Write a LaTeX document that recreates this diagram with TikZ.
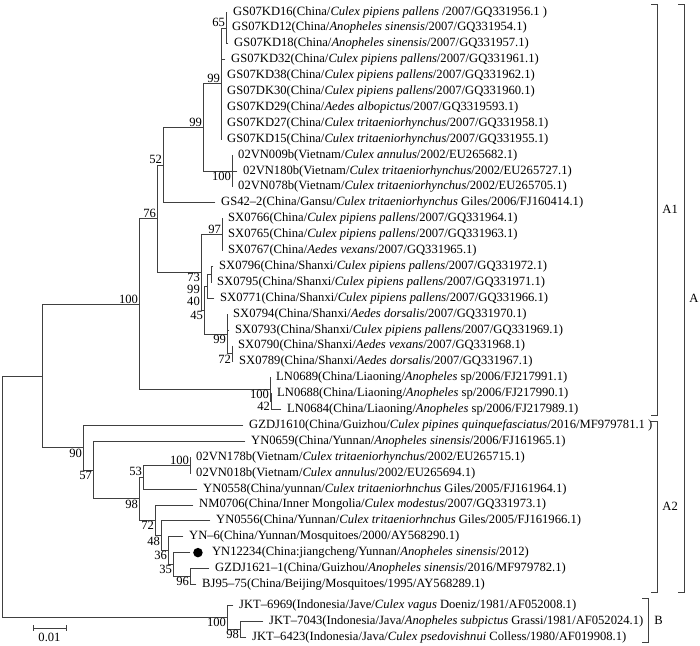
\documentclass[tikz,border=0pt]{standalone}
\usepackage{fontspec}
\setmainfont{Liberation Serif}
\usetikzlibrary{positioning}

\begin{document}
\begin{tikzpicture}[
  x=1pt, y=-1pt, line cap=rect,
  br/.style={draw=black!75, line width=0.8pt},
  lab/.style={inner sep=0pt, font=\fontsize{12.6}{14}\selectfont},
  bsup/.style={lab, inner sep=0.8pt, anchor=south east},
  bsdn/.style={lab, inner sep=0.8pt, anchor=north east}
]
  \useasboundingbox (0,0) rectangle (700,645);

  % ── Tips ──────────────────────────────────────────────────────────────────
  \coordinate (c1)  at (227,12);
  \coordinate (c2)  at (226,27.9);
  \coordinate (c3)  at (228,43.8);
  \coordinate (c4)  at (225,59.7);
  \coordinate (c5)  at (221,75.6);
  \coordinate (c6)  at (221,91.5);
  \coordinate (c7)  at (221,107.4);
  \coordinate (c8)  at (221,123.3);
  \coordinate (c9)  at (221,139.2);
  \coordinate (c10) at (232,155.1);
  \coordinate (c11) at (237,171);
  \coordinate (c12) at (232,186.9);
  \coordinate (c13) at (215,202.8);
  \coordinate (c14) at (222,218.7);
  \coordinate (c15) at (222,234.6);
  \coordinate (c16) at (222,250.5);
  \coordinate (c17) at (213,266.4);
  \coordinate (c18) at (211,282.3);
  \coordinate (c19) at (214,298.2);
  \coordinate (c20) at (227,314.1);
  \coordinate (c21) at (229,330);
  \coordinate (c22) at (232,345.9);
  \coordinate (c23) at (233,361.8);
  \coordinate (c24) at (270,377.7);
  \coordinate (c25) at (271,393.6);
  \coordinate (c26) at (281,409.5);
  \coordinate (c27) at (243,425.4);
  \coordinate (c28) at (245,441.3);
  \coordinate (c29) at (190,457.2);
  \coordinate (c30) at (190,473.1);
  \coordinate (c31) at (197,489);
  \coordinate (c32) at (193,504.9);
  \coordinate (c33) at (210,520.8);
  \coordinate (c34) at (183,536.7);
  \coordinate (c35) at (190,552.6);
  \coordinate (c36) at (209,568.5);
  \coordinate (c37) at (196,584.4);
  \coordinate (c38) at (233,605);
  \coordinate (c39) at (263,621);
  \coordinate (c40) at (246,637);

  % ── Internal nodes ────────────────────────────────────────────────────────
  \coordinate (n65)   at (226,27.9);
  \coordinate (n99a)  at (221,83.55);
  \coordinate (n100v) at (232,171);
  \coordinate (n99b)  at (203,127.3);
  \coordinate (n52)   at (163,165.05);
  \coordinate (n97)   at (222,234.6);
  \coordinate (n99)   at (211,274.35);
  \coordinate (n40)   at (207,286.3);
  \coordinate (n72)   at (232,353.85);
  \coordinate (n99x)  at (227,333.98);
  \coordinate (n45)   at (204,310.1);
  \coordinate (nsx)   at (201,272.35);
  \coordinate (n76)   at (157,218.7);
  \coordinate (n42)   at (271,401.55);
  \coordinate (nln)   at (270,389.6);
  \coordinate (na1)   at (139,304.15);
  \coordinate (n100b) at (190,465.15);
  \coordinate (n53)   at (143,477.1);
  \coordinate (n96)   at (190,576.45);
  \coordinate (n35)   at (173,564.5);
  \coordinate (n36)   at (168,550.6);
  \coordinate (n48)   at (161,535.7);
  \coordinate (n72b)  at (155,520.3);
  \coordinate (n98)   at (139,498.7);
  \coordinate (n57)   at (93,470);
  \coordinate (n90)   at (83,447.7);
  \coordinate (na)    at (42,375.9);
  \coordinate (n98j)  at (240,629);
  \coordinate (nb)    at (227,617);
  \coordinate (root)  at (2,496.5);

  % ── Branches ──────────────────────────────────────────────────────────────
  \foreach \p/\c in {n65/c1, n65/c2, n65/c3,
      n99a/n65, n99a/c4, n99a/c5, n99a/c6, n99a/c7, n99a/c8, n99a/c9,
      n100v/c10, n100v/c11, n100v/c12, n99b/n99a, n99b/n100v,
      n52/n99b, n52/c13, n97/c14, n97/c15, n97/c16,
      n99/c17, n99/c18, n40/n99, n40/c19, n72/c22, n72/c23,
      n99x/c20, n99x/c21, n99x/n72, n45/n40, n45/n99x,
      nsx/n97, nsx/n45, n76/n52, n76/nsx,
      n42/c25, n42/c26, nln/c24, nln/n42, na1/n76, na1/nln,
      n100b/c29, n100b/c30, n53/n100b, n53/c31,
      n96/c36, n96/c37, n35/c35, n35/n96, n36/c34, n36/n35,
      n48/c33, n48/n36, n72b/c32, n72b/n48, n98/n53, n98/n72b,
      n57/c28, n57/n98, n90/c27, n90/n57, na/na1, na/n90,
      n98j/c39, n98j/c40, nb/c38, nb/n98j, root/na, root/nb}
    \draw[br] (\p) |- (\c);

  % ── Taxa ──────────────────────────────────────────────────────────────────
  \node[lab, right=6pt of c1]  (l1)  {GS07KD16(China/\textit{Culex pipiens pallens} /2007/GQ331956.1 )};
  \node[lab, right=6pt of c2]  (l2)  {GS07KD12(China/\textit{Anopheles sinensis}/2007/GQ331954.1)};
  \node[lab, right=6pt of c3]  (l3)  {GS07KD18(China/\textit{Anopheles sinensis}/2007/GQ331957.1)};
  \node[lab, right=6pt of c4]  (l4)  {GS07KD32(China/\textit{Culex pipiens pallens}/2007/GQ331961.1)};
  \node[lab, right=6pt of c5]  (l5)  {GS07KD38(China/\textit{Culex pipiens pallens}/2007/GQ331962.1)};
  \node[lab, right=6pt of c6]  (l6)  {GS07DK30(China/\textit{Culex pipiens pallens}/2007/GQ331960.1)};
  \node[lab, right=6pt of c7]  (l7)  {GS07KD29(China/\textit{Aedes albopictus}/2007/GQ3319593.1)};
  \node[lab, right=6pt of c8]  (l8)  {GS07KD27(China/\textit{Culex tritaeniorhynchus}/2007/GQ331958.1)};
  \node[lab, right=6pt of c9]  (l9)  {GS07KD15(China/\textit{Culex tritaeniorhynchus}/2007/GQ331955.1)};
  \node[lab, right=6pt of c10] (l10) {02VN009b(Vietnam/\textit{Culex annulus}/2002/EU265682.1)};
  \node[lab, right=6pt of c11] (l11) {02VN180b(Vietnam/\textit{Culex tritaeniorhynchus}/2002/EU265727.1)};
  \node[lab, right=6pt of c12] (l12) {02VN078b(Vietnam/\textit{Culex tritaeniorhynchus}/2002/EU265705.1)};
  \node[lab, right=6pt of c13] (l13) {GS42--2(China/Gansu/\textit{Culex tritaeniorhynchus} Giles/2006/FJ160414.1)};
  \node[lab, right=6pt of c14] (l14) {SX0766(China/\textit{Culex pipiens pallens}/2007/GQ331964.1)};
  \node[lab, right=6pt of c15] (l15) {SX0765(China/\textit{Culex pipiens pallens}/2007/GQ331963.1)};
  \node[lab, right=6pt of c16] (l16) {SX0767(China/\textit{Aedes vexans}/2007/GQ331965.1)};
  \node[lab, right=6pt of c17] (l17) {SX0796(China/Shanxi/\textit{Culex pipiens pallens}/2007/GQ331972.1)};
  \node[lab, right=6pt of c18] (l18) {SX0795(China/Shanxi/\textit{Culex pipiens pallens}/2007/GQ331971.1)};
  \node[lab, right=6pt of c19] (l19) {SX0771(China/Shanxi/\textit{Culex pipiens pallens}/2007/GQ331966.1)};
  \node[lab, right=6pt of c20] (l20) {SX0794(China/Shanxi/\textit{Aedes dorsalis}/2007/GQ331970.1)};
  \node[lab, right=6pt of c21] (l21) {SX0793(China/Shanxi/\textit{Culex pipiens pallens}/2007/GQ331969.1)};
  \node[lab, right=6pt of c22] (l22) {SX0790(China/Shanxi/\textit{Aedes vexans}/2007/GQ331968.1)};
  \node[lab, right=6pt of c23] (l23) {SX0789(China/Shanxi/\textit{Aedes dorsalis}/2007/GQ331967.1)};
  \node[lab, right=6pt of c24] (l24) {LN0689(China/Liaoning/\textit{Anopheles} sp/2006/FJ217991.1)};
  \node[lab, right=6pt of c25] (l25) {LN0688(China/Liaoning/\textit{Anopheles} sp/2006/FJ217990.1)};
  \node[lab, right=6pt of c26] (l26) {LN0684(China/Liaoning/\textit{Anopheles} sp/2006/FJ217989.1)};
  \node[lab, right=6pt of c27] (l27) {GZDJ1610(China/Guizhou/\textit{Culex pipines quinquefasciatus}/2016/MF979781.1 )};
  \node[lab, right=6pt of c28] (l28) {YN0659(China/Yunnan/\textit{Anopheles sinensis}/2006/FJ161965.1)};
  \node[lab, right=6pt of c29] (l29) {02VN178b(Vietnam/\textit{Culex tritaeniorhynchus}/2002/EU265715.1)};
  \node[lab, right=6pt of c30] (l30) {02VN018b(Vietnam/\textit{Culex annulus}/2002/EU265694.1)};
  \node[lab, right=6pt of c31] (l31) {YN0558(China/yunnan/\textit{Culex tritaeniorhnchus} Giles/2005/FJ161964.1)};
  \node[lab, right=6pt of c32] (l32) {NM0706(China/Inner Mongolia/\textit{Culex modestus}/2007/GQ331973.1)};
  \node[lab, right=6pt of c33] (l33) {YN0556(China/Yunnan/\textit{Culex tritaeniorhnchus} Giles/2005/FJ161966.1)};
  \node[lab, right=6pt of c34] (l34) {YN--6(China/Yunnan/Mosquitoes/2000/AY568290.1)};
  \node[circle, fill=black, inner sep=0pt, minimum size=9.5pt, right=3pt of c35] (dot) {};
  \node[lab, right=9pt of dot] (l35) {YN12234(China:jiangcheng/Yunnan/\textit{Anopheles sinensis}/2012)};
  \node[lab, right=6pt of c36] (l36) {GZDJ1621--1(China/Guizhou/\textit{Anopheles sinensis}/2016/MF979782.1)};
  \node[lab, right=6pt of c37] (l37) {BJ95--75(China/Beijing/Mosquitoes/1995/AY568289.1)};
  \node[lab, right=6pt of c38] (l38) {JKT--6969(Indonesia/Jave/\textit{Culex vagus} Doeniz/1981/AF052008.1)};
  \node[lab, right=6pt of c39] (l39) {JKT--7043(Indonesia/Java/\textit{Anopheles subpictus} Grassi/1981/AF052024.1)};
  \node[lab, right=6pt of c40] (l40) {JKT--6423(Indonesia/Java/\textit{Culex psedovishnui} Colless/1980/AF019908.1)};

  % ── Bootstrap values ──────────────────────────────────────────────────────
  \node[bsup] (b65)   at (n65)   {65};
  \node[bsup] (b99a)  at (n99a)  {99};
  \node[bsup] (b99b)  at (n99b)  {99};
  \node[bsdn] (b100v) at (n100v) {100};
  \node[bsup] (b52)   at (n52)   {52};
  \node[bsup] (b76)   at (n76)   {76};
  \node[bsup] (b97)   at (n97)   {97};
  \node[bsdn] (b73)   at (nsx)   {73};
  \node[lab, anchor=north east] (b99)  at (200,284.5) {99};
  \node[lab, anchor=north east] (b40)  at (200,296.5) {40};
  \node[bsdn] (b45)   at (n45)   {45};
  \node[bsdn] (b99x)  at (n99x)  {99};
  \node[bsdn] (b72)   at (n72)   {72};
  \node[bsup] (ba1)   at (na1)   {100};
  \node[bsdn] (bln)   at (nln)   {100};
  \node[bsdn] (b42)   at (n42)   {42};
  \node[bsdn] (b90)   at (n90)   {90};
  \node[bsdn] (b57)   at (n57)   {57};
  \node[bsdn] (b98)   at (n98)   {98};
  \node[bsup] (b53)   at (n53)   {53};
  \node[bsup] (b100b) at (n100b) {100};
  \node[bsdn] (b72b)  at (n72b)  {72};
  \node[bsdn] (b48)   at (n48)   {48};
  \node[bsdn] (b36)   at (n36)   {36};
  \node[bsdn] (b35)   at (n35)   {35};
  \node[bsdn] (b96)   at (n96)   {96};
  \node[bsdn] (bb)    at (nb)    {100};
  \node[bsdn] (b98j)  at (n98j)  {98};

  % ── Scale bar ─────────────────────────────────────────────────────────────
  \coordinate (s0) at (33,628);
  \coordinate (s1) at (66,628);
  \draw[br] (s0) -- node[lab, below=5pt] (sl) {0.01} (s1);
  \draw[br] ([yshift=2.5pt]s0) -- ([yshift=-2.5pt]s0);
  \draw[br] ([yshift=2.5pt]s1) -- ([yshift=-2.5pt]s1);

  % ── Clade brackets ────────────────────────────────────────────────────────
  \coordinate (a1t) at (657,4);   \coordinate (a1b) at (657,415);
  \coordinate (a2t) at (657,421); \coordinate (a2b) at (657,592);
  \coordinate (gbt) at (648,598); \coordinate (gbb) at (648,642);
  \coordinate (gat) at (684,4);   \coordinate (gab) at (684,592);
  \draw[br] ([xshift=-6pt]a1t) -- (a1t) -- node[lab, right=5pt] (ga1) {A1} (a1b) -- ([xshift=-6pt]a1b);
  \draw[br] ([xshift=-6pt]a2t) -- (a2t) -- node[lab, right=5pt] (ga2) {A2} (a2b) -- ([xshift=-6pt]a2b);
  \draw[br] ([xshift=-6pt]gbt) -- (gbt) -- node[lab, right=6pt] (gb) {B} (gbb) -- ([xshift=-6pt]gbb);
  \draw[br] ([xshift=-6pt]gat) -- (gat) -- node[lab, right=5pt] (ga) {A} (gab) -- ([xshift=-6pt]gab);

\end{tikzpicture}
\end{document}
